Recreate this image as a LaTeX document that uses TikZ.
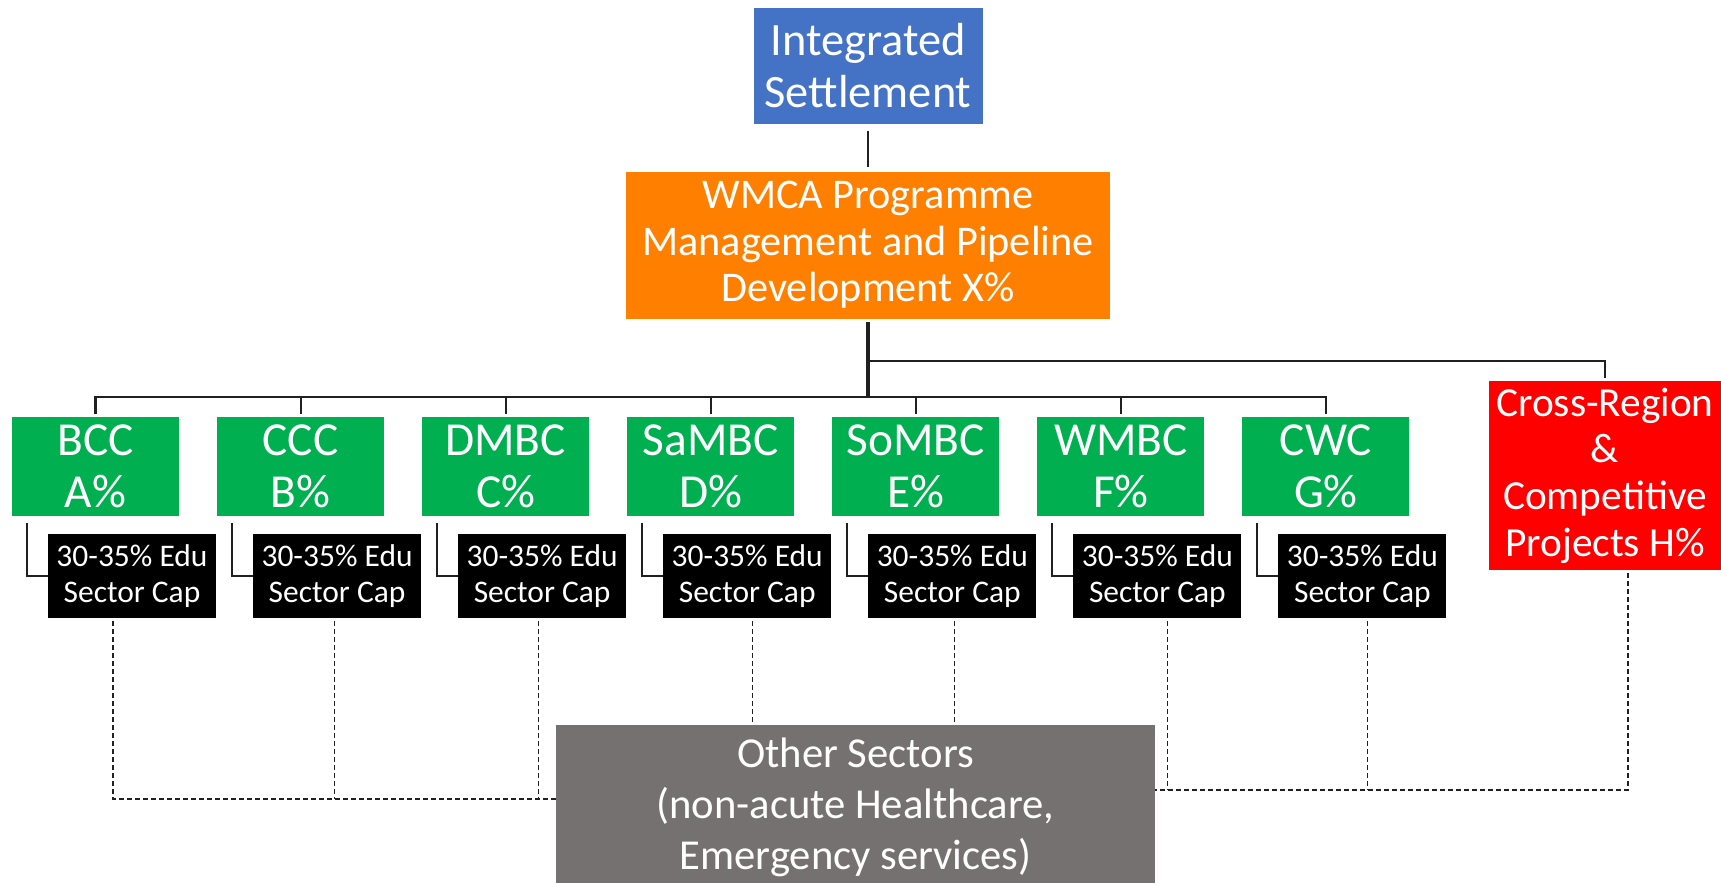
\documentclass[tikz,border=0pt]{standalone}
\usepackage{fontspec}
\setmainfont{Carlito}
\usetikzlibrary{calc}

\definecolor{settleblue}{RGB}{68,114,196}
\definecolor{wmcaorange}{RGB}{255,128,0}
\definecolor{lagreen}{RGB}{0,176,80}
\definecolor{crossred}{RGB}{255,0,0}
\definecolor{othergray}{RGB}{118,113,113}
\definecolor{treeline}{RGB}{32,32,32}

\tikzset{
  box/.style={rectangle, inner sep=0pt, align=center, text=white},
  settlebox/.style={box, fill=settleblue, minimum width=171.75pt, minimum height=87pt,
    font=\fontsize{34.8}{38.7}\selectfont},
  wmcabox/.style={box, fill=wmcaorange, minimum width=363pt, minimum height=110.25pt,
    font=\fontsize{31.7}{35}\selectfont},
  labox/.style={box, fill=lagreen, minimum width=125.25pt, minimum height=74.25pt,
    font=\fontsize{35.5}{38.7}\selectfont},
  capbox/.style={box, fill=black, minimum width=126pt, minimum height=63pt,
    font=\fontsize{23.6}{27}\selectfont},
  crossbox/.style={box, fill=crossred, minimum width=174pt, minimum height=141.75pt,
    font=\fontsize{31}{35}\selectfont},
  otherbox/.style={box, fill=othergray, minimum width=449.25pt, minimum height=123pt,
    font=\fontsize{32}{38.3}\selectfont},
  tree/.style={draw=treeline, line width=1.6pt},
  trunk/.style={tree, line width=2.6pt},
  dashline/.style={draw=treeline, line width=0.8pt, dash pattern=on 3.75pt off 2.25pt}
}

\begin{document}
\begin{tikzpicture}[x=0.75pt,y=0.75pt,yscale=-1,xscale=1]
\useasboundingbox (0,0) rectangle (1721,882);
\clip (0,0) rectangle (1721,882);

%Shape: Rectangle [settlement]
\node[settlebox] (settle) at (868,65.5) {Integrated\\Settlement};
%Shape: Rectangle [programme]
\node[wmcabox] (wmca) at (868,245) {WMCA Programme\\Management and Pipeline\\Development X\%};
%Shape: Rectangle [cross-region]
\node[crossbox] (cross) at (1605,475.5) {Cross-Region\\\&\\Competitive\\Projects H\%};
%Shape: Rectangle [other sectors]
\node[otherbox] (other) at (855.5,807) {Other Sectors\\(non-acute Healthcare,\\Emergency services)};

%Shape: Rectangle [local authorities and caps]
\foreach \i/\name/\pct in {0/BCC/A,1/CCC/B,2/DMBC/C,3/SaMBC/D,4/SoMBC/E,5/WMBC/F,6/CWC/G}{
  \node[labox] (la\i) at ({95.5+205.07*\i},466.5) {\name\\\pct\%};
  \node[capbox] (cap\i) at ($(la\i.center)+(36.5,109.5)$) {30-35\% Edu\\Sector Cap};
}

%Straight Lines
\coordinate (bus) at (868,397);
\coordinate (branch) at (868,361);
\coordinate (lj) at (other.west |- 0,799);
\coordinate (rj) at (other.east |- 0,790);

\draw[tree] ($(settle.south)+(0,7)$) -- ($(wmca.north)+(0,-4)$);
\draw[trunk] ($(wmca.south)+(0,3)$) -- (bus);
\draw[tree] (branch) -| ($(cross.north)+(0,-3)$);
\foreach \i in {0,...,6}{
  \draw[tree] ($(la\i.north)+(0,-3)$) |- (bus);
  \draw[tree] ($(la\i.south west)+(15,7)$) |- (cap\i.west);
}
\draw[tree, line width=2.1pt] (la0.north |- bus) -- (la6.north |- bus);

% Dashed Lines
\foreach \i/\dx in {0/-19,1/-3,2/-4,3/5.5,4/2,5/10,6/5}
  \coordinate (drop\i) at ($(cap\i.south)+(\dx,3)$);
\coordinate (dropH) at ($(cross.south)+(23,3)$);

\draw[dashline] (drop0) |- (lj);
\foreach \i in {1,2}
  \draw[dashline] (drop\i) -- (drop\i |- lj);
\foreach \i in {3,4}
  \draw[dashline] (drop\i) -- (drop\i |- other.north);
\foreach \i in {5,6}
  \draw[dashline] (drop\i) -- (drop\i |- rj);
\draw[dashline] (dropH) |- (rj);

\end{tikzpicture}
\end{document}
